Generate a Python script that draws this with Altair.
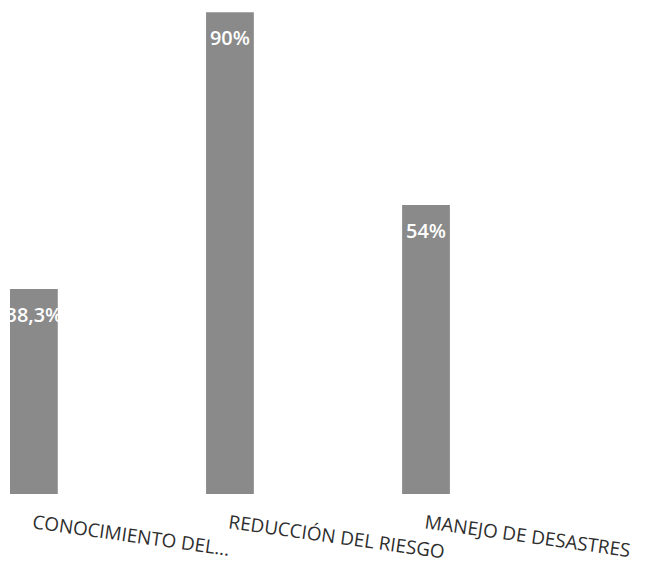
import altair as alt
import pandas as pd

categories = ["CONOCIMIENTO DEL...", "REDUCCIÓN DEL RIESGO", "MANEJO DE DESASTRES"]
values = [38.3, 90, 54]
value_labels = ["38,3%", "90%", "54%"]

df = pd.DataFrame({"cat": categories, "val": values, "lbl": value_labels})

x = alt.X("cat:N", sort=categories, title=None,
          scale=alt.Scale(paddingInner=0.7563, paddingOuter=0.0102),
          axis=alt.Axis(labelAngle=8, labelAlign="left", labelBaseline="top",
                        labelPadding=19, labelLimit=400, labelFontSize=19,
                        labelFont="Open Sans", labelColor="#2e2e2e",
                        domain=False, ticks=False, grid=False))
y = alt.Y("val:Q", title=None, scale=alt.Scale(domain=[0, 90], nice=False), axis=None)

bars = alt.Chart(df).mark_bar(color="#8a8a8a").encode(x=x, y=y)
texts = alt.Chart(df).mark_text(color="white", fontSize=20, font="Open Sans",
                                 fontWeight=600,
                                 baseline="middle", align="center", dy=27).encode(
    x=alt.X("cat:N", sort=categories), y="val:Q", text="lbl:N")

chart = (bars + texts).properties(
    width=446, height=484,
    autosize=alt.AutoSizeParams(type="none"),
    padding={"left": 0, "top": 3, "right": 190, "bottom": 70},
    background="white",
).configure_view(stroke=None)

chart.save("out.html", embed_options={"renderer": "svg", "actions": False})
